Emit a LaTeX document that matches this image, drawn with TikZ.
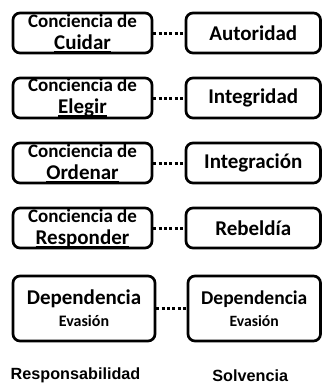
\documentclass[tikz,border=0pt]{standalone}
\usepackage{fontspec}
\setmainfont{Carlito}
\newfontfamily\arialfont{Liberation Sans}
\newsavebox{\palabra}
\newcommand{\subrayar}[1]{\sbox{\palabra}{#1}\rlap{\rule[-3.3pt]{\wd\palabra}{1.8pt}}\usebox{\palabra}}
\newcommand{\conciencia}[1]{{\fontsize{19}{22}\selectfont Conciencia de}\\{\fontsize{21}{22}\selectfont\subrayar{#1}}}

\begin{document}
\begin{tikzpicture}[x=1pt, y=1pt, every text node part/.style={align=center},
  cuadro/.style={draw, rounded corners=7pt, line width=2.7pt, inner sep=0pt, minimum width=139pt, minimum height=40pt, font=\fontsize{21}{22}\selectfont\bfseries},
  enlace/.style={line width=3pt, dash pattern=on 3pt off 2.3pt},
  rotulo/.style={font=\arialfont\bfseries\fontsize{16.2}{18}\selectfont}]
\useasboundingbox (0,0) rectangle (322,-384);

\node (cuidar) [cuadro] at (82.5,-33) {\conciencia{Cuidar}};
\node (elegir) [cuadro, node distance=65pt, below of=cuidar] {\conciencia{Elegir}};
\node (ordenar) [cuadro, node distance=65pt, below of=elegir] {\conciencia{Ordenar}};
\node (responder) [cuadro, node distance=65pt, below of=ordenar] {\conciencia{Responder}};
\node (dependencia) [cuadro, node distance=80.5pt, below of=responder, xshift=1.5pt, minimum width=142pt, minimum height=65pt] {Dependencia\\{\fontsize{16}{22}\selectfont Evasión}};

\node (autoridad) [cuadro, node distance=170.75pt, right of=cuidar, minimum width=134.5pt] {Autoridad};
\node (integridad) [cuadro, node distance=170.75pt, right of=elegir, minimum width=134.5pt] {Integridad};
\node (integracion) [cuadro, node distance=170.75pt, right of=ordenar, minimum width=134.5pt] {Integración};
\node (rebeldia) [cuadro, node distance=170.75pt, right of=responder, minimum width=134.5pt] {Rebeldía};
\node (dependencia solvencia) [cuadro, node distance=170.25pt, right of=dependencia, minimum width=132.5pt, minimum height=65pt] {{\fontsize{19.5}{22}\selectfont Dependencia}\\{\fontsize{15.7}{22}\selectfont Evasión}};

\draw [enlace] (cuidar.east) -- (autoridad.west);
\draw [enlace] (elegir.east) -- (integridad.west);
\draw [enlace] (ordenar.east) -- (integracion.west);
\draw [enlace] (responder.east) -- (rebeldia.west);
\draw [enlace] (dependencia.east) -- (dependencia solvencia.west);

\node (responsabilidad) [rotulo, node distance=67pt, below of=dependencia, xshift=-8.5pt] {Responsabilidad};
\node (solvencia) [rotulo, node distance=67pt, below of=dependencia solvencia, xshift=-4pt] {Solvencia};
\end{tikzpicture}
\end{document}
